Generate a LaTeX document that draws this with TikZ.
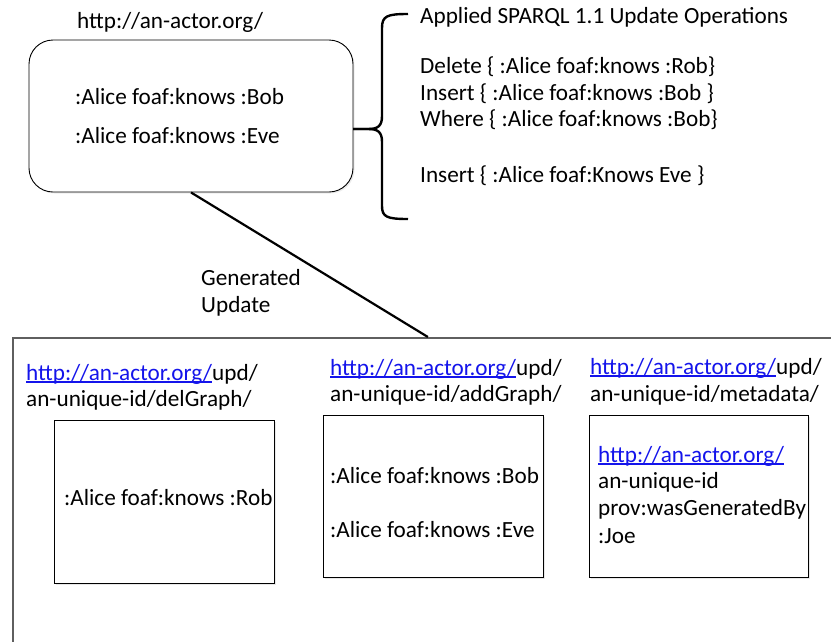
\documentclass[tikz,border=0pt]{standalone}
\usepackage{fontspec}
\setmainfont{Carlito}
\usepackage{tikz}
\usetikzlibrary{shadows}
\definecolor{linkblue}{RGB}{20,20,235}
\definecolor{framegray}{RGB}{95,95,95}
\newcommand\lnk[1]{\textcolor{linkblue}{\setbox0\hbox{#1}\rlap{\rule[-2.6pt]{\wd0}{1.2pt}}\box0}}
\tikzset{
  lbl/.style={anchor=base west, inner sep=0pt, font=\fontsize{23.2}{27}\selectfont},
  graphbox/.style={draw, fill=white, line width=1.1pt, anchor=north west, inner sep=0pt,
    drop shadow={opacity=0.18, shadow xshift=1.5pt, shadow yshift=-1.5pt}},
}

\begin{document}
\begin{tikzpicture}[x=1pt, y=-1pt]
\useasboundingbox (0,0) rectangle (831,641);
% actor graph
\path (77,28) node[lbl] (actorname) {http://an-actor.org/};
\node[draw, fill=white, line width=0.9pt, rounded corners=24pt, minimum width=324pt, minimum height=152pt,
  drop shadow={opacity=0.15, shadow xshift=1.5pt, shadow yshift=-1.5pt}] (actor) at (191,116) {};
\path (75,104) node[lbl] (abob) {:Alice foaf:knows :Bob};
\path (75,143) node[lbl] (aeve) {:Alice foaf:knows :Eve};
% brace and update operations
\coordinate (btop) at (408,14);
\coordinate (btip) at (353,129);
\coordinate (bbot) at (408,219);
\draw[line width=2.4pt] (btop) .. controls (387,14) and (382,16) .. (382,28) -- (382,116)
  .. controls (382,126) and (378,129) .. (368,129) -- (btip);
\draw[line width=2.4pt] (btip) -- (368,129) .. controls (378,129) and (382,132) .. (382,142)
  -- (382,206) .. controls (382,217) and (387,219) .. (bbot);
\path (420,23) node[lbl] (ops) {Applied SPARQL 1.1 Update Operations};
\path (420,73) node[lbl] (opdel) {Delete \{ :Alice foaf:knows :Rob\}};
\path (420,100) node[lbl] (opins) {Insert \{ :Alice foaf:knows :Bob \}};
\path (420,126) node[lbl] (opwhere) {Where \{ :Alice foaf:knows :Bob\}};
\path (420,182) node[lbl] (opeve) {Insert \{ :Alice foaf:Knows Eve \}};
% generated update
\node[draw=framegray, fill=white, line width=1.8pt, anchor=north west, minimum width=830pt, minimum height=340pt,
  drop shadow={opacity=0.15, shadow xshift=1.5pt, shadow yshift=-1.5pt}] (upd) at (12,337) {};
\draw[line width=2.2pt] (actor.south) -- (upd.north);
\path (201,285) node[lbl] (gen) {Generated};
\path (201,312) node[lbl] (genupd) {Update};
% delGraph
\path (26,380) node[lbl] (delname) {\lnk{http://an-actor.org/}upd/};
\path (26,406) node[lbl] (delid) {an-unique-id/delGraph/};
\node[graphbox, minimum width=220pt, minimum height=163pt] (del) at (54,420) {};
\path (64,505) node[lbl] (drob) {:Alice foaf:knows :Rob};
% addGraph
\path (330,375) node[lbl] (addname) {\lnk{http://an-actor.org/}upd/};
\path (330,401) node[lbl] (addid) {an-unique-id/addGraph/};
\node[graphbox, minimum width=220pt, minimum height=162pt] (add) at (323,415) {};
\path (330,483) node[lbl] (dbob) {:Alice foaf:knows :Bob};
\path (330,537) node[lbl] (deve) {:Alice foaf:knows :Eve};
% metadata
\path (590,374) node[lbl] (metaname) {\lnk{http://an-actor.org/}upd/};
\path (590,401) node[lbl] (metaid) {an-unique-id/metadata/};
\node[graphbox, minimum width=219pt, minimum height=162pt] (meta) at (589,415) {};
\path (598,462) node[lbl] (mlink) {\lnk{http://an-actor.org/}};
\path (598,488) node[lbl] (mid) {an-unique-id};
\path (598,515) node[lbl] (mprov) {prov:wasGeneratedBy};
\path (598,543) node[lbl] (mjoe) {:Joe};
\end{tikzpicture}
\end{document}
